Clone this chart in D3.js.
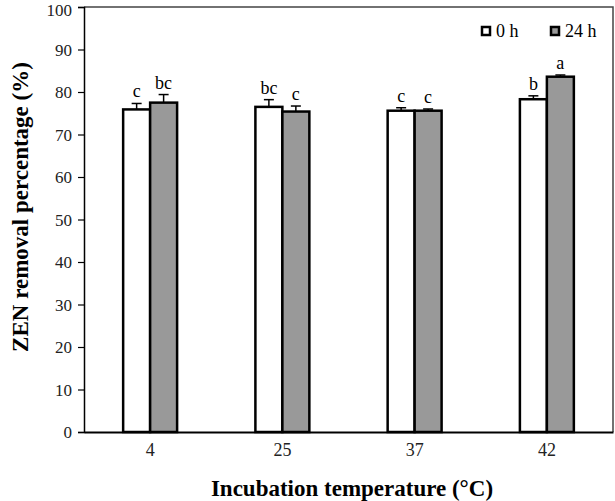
<!DOCTYPE html>
<html>
<head>
<meta charset="utf-8">
<script src="https://cdn.jsdelivr.net/npm/d3@7"></script>
<style>
html,body{margin:0;padding:0;background:#fff;}
svg{display:block;}
svg text{font-family:"Liberation Serif","Times New Roman",serif !important;}
</style>
</head>
<body>
<svg id="chart" width="615" height="501"></svg>
<script>
const categories = ["4", "25", "37", "42"];
const seriesNames = ["0 h", "24 h"];
const values0h = [75.9, 76.5, 75.6, 78.3];
const values24h = [77.5, 75.4, 75.6, 83.6];
const errors0h = [1.4, 1.7, 0.7, 0.8];
const errors24h = [1.9, 1.3, 0.4, 0.4];
const letters0h = ["c", "bc", "c", "b"];
const letters24h = ["bc", "c", "c", "a"];
const yTicks = [0, 10, 20, 30, 40, 50, 60, 70, 80, 90, 100];
const fills = ["#ffffff", "#999999"];

const svg = d3.select("#chart");
const W = 615, H = 501;
const m = {left: 84, top: 7, right: 2, bottom: 69};
const iw = W - m.left - m.right, ih = H - m.top - m.bottom;
const g = svg.append("g").attr("transform", `translate(${m.left},${m.top})`);

const x = d3.scaleBand().domain(categories).range([0, iw]).padding(0);
const bw = x.bandwidth();
const x1 = d3.scaleBand().domain(seriesNames).range([bw/2 - bw*0.204, bw/2 + bw*0.204]).padding(0);
const y = d3.scaleLinear().domain([0, 100]).range([ih, 0]);

// plot border (top/right)
g.append("path").attr("d", `M0,0H${iw}V${ih}`).attr("fill", "none").attr("stroke", "#444").attr("stroke-width", 1.5);

const data = categories.map((c, i) => ([
  {cat: c, s: seriesNames[0], v: values0h[i], e: errors0h[i], l: letters0h[i], f: fills[0]},
  {cat: c, s: seriesNames[1], v: values24h[i], e: errors24h[i], l: letters24h[i], f: fills[1]}
])).flat();

// error bars
const eg = g.append("g");
data.forEach(d => {
  const cx = x(d.cat) + x1(d.s) + x1.bandwidth()/2;
  eg.append("line").attr("x1", cx).attr("x2", cx).attr("y1", y(d.v)).attr("y2", y(d.v + d.e))
    .attr("stroke", "#000").attr("stroke-width", 1.5);
  eg.append("line").attr("x1", cx - 5).attr("x2", cx + 5).attr("y1", y(d.v + d.e)).attr("y2", y(d.v + d.e))
    .attr("stroke", "#000").attr("stroke-width", 1.5);
});

// bars
g.append("g").selectAll("rect").data(data).join("rect")
  .attr("x", d => x(d.cat) + x1(d.s))
  .attr("y", d => y(d.v))
  .attr("width", x1.bandwidth())
  .attr("height", d => ih - y(d.v))
  .attr("fill", d => d.f)
  .attr("stroke", "#000")
  .attr("stroke-width", 2.5);

// letters
g.append("g").selectAll("text").data(data).join("text")
  .attr("x", d => x(d.cat) + x1(d.s) + x1.bandwidth()/2)
  .attr("y", d => y(d.v + d.e) - 6)
  .attr("text-anchor", "middle")
  .attr("font-size", 18)
  .attr("fill", "#000")
  .text(d => d.l);

// y axis
const ya = g.append("g").call(d3.axisLeft(y).tickValues(yTicks).tickSize(6).tickPadding(6));
ya.select(".domain").attr("stroke", "#000").attr("stroke-width", 1.5);
ya.selectAll(".tick line").attr("stroke", "#000").attr("stroke-width", 1.2);
ya.selectAll(".tick text").attr("font-size", 17).attr("fill", "#222")
  .attr("dy", d => d === 100 ? "0.5em" : "0.34em");

// x axis
const xa = g.append("g").attr("transform", `translate(0,${ih})`).call(d3.axisBottom(x).tickSize(0).tickPadding(11));
xa.select(".domain").attr("stroke", "#000").attr("stroke-width", 2);
xa.selectAll(".tick text").attr("font-size", 18).attr("fill", "#222");

// axis titles
svg.append("text").attr("x", 352).attr("y", 496).attr("text-anchor", "middle")
  .attr("font-size", 23).attr("font-weight", "bold").text("Incubation temperature (°C)");
svg.append("text").attr("transform", `translate(28,207) rotate(-90)`).attr("text-anchor", "middle")
  .attr("font-size", 23).attr("font-weight", "bold").text("ZEN removal percentage (%)");

// legend
const lg = svg.append("g").attr("transform", "translate(481,26)");
seriesNames.forEach((s, i) => {
  const ox = i === 0 ? 0 : 69;
  lg.append("rect").attr("x", ox + 1).attr("y", 1).attr("width", 8).attr("height", 8)
    .attr("fill", fills[i]).attr("stroke", "#000").attr("stroke-width", 2.5);
  lg.append("text").attr("x", ox + 15).attr("y", 10.5).attr("font-size", 18).attr("fill", "#000").text(s);
});
</script>
</body>
</html>
